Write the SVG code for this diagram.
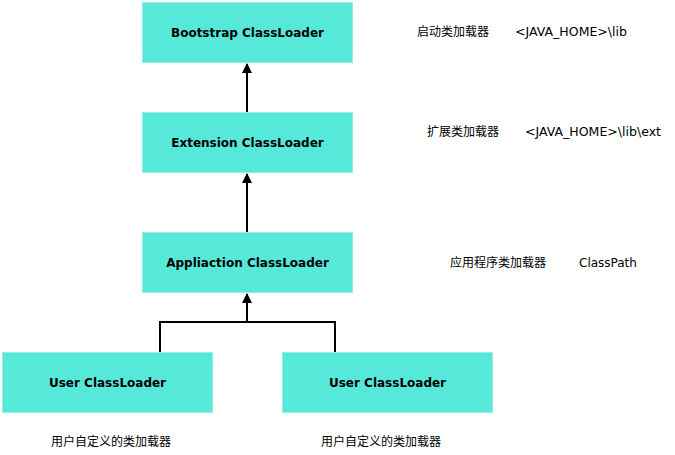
<svg xmlns="http://www.w3.org/2000/svg" width="675" height="455" viewBox="0 0 675 455">
<style>
.box{fill:#56e9da;stroke:#8ff0e6;stroke-width:1}
.lbl{font-family:"DejaVu Sans","Noto Sans",sans-serif;font-weight:bold;font-size:12px;fill:#000;text-anchor:middle;dominant-baseline:central}
.note{font-family:"DejaVu Sans","Noto Sans CJK SC",sans-serif;font-size:12px;fill:#000;dominant-baseline:central}
.edge{fill:none;stroke:#000;stroke-width:2}
</style>
<defs>
<marker id="arr" viewBox="0 0 10 10" refX="9" refY="5" markerWidth="10" markerHeight="10" markerUnits="userSpaceOnUse" orient="auto">
<path d="M0,0 L10,5 L0,10 Z" fill="#000"/>
</marker>
</defs>
<rect width="675" height="455" fill="#fff"/>
<g id="connectors">
<path class="edge" d="M247,112 L247,64" marker-end="url(#arr)"/>
<path class="edge" d="M247,232 L247,174" marker-end="url(#arr)"/>
<path class="edge" d="M247,322 L247,294" marker-end="url(#arr)"/>
<path class="edge" d="M160,352 L160,322 L335,322 L335,352"/>
</g>
<g id="bootstrap">
<rect class="box" x="142.5" y="2.5" width="210" height="60"/>
<text class="lbl" x="247.5" y="32.5">Bootstrap ClassLoader</text>
</g>
<g id="extension">
<rect class="box" x="142.5" y="112.5" width="210" height="60"/>
<text class="lbl" x="247.5" y="142.5">Extension ClassLoader</text>
</g>
<g id="application">
<rect class="box" x="142.5" y="232.5" width="210" height="60"/>
<text class="lbl" x="247.5" y="262.5">Appliaction ClassLoader</text>
</g>
<g id="user1">
<rect class="box" x="2.5" y="352.5" width="210" height="60"/>
<text class="lbl" x="107.5" y="382.5">User ClassLoader</text>
</g>
<g id="user2">
<rect class="box" x="282.5" y="352.5" width="210" height="60"/>
<text class="lbl" x="387.5" y="382.5">User ClassLoader</text>
</g>
<g id="notes">
<text class="note" x="417" y="32">启动类加载器</text>
<text class="note" x="515" y="32" textLength="112" lengthAdjust="spacingAndGlyphs">&lt;JAVA_HOME&gt;\lib</text>
<text class="note" x="427" y="132">扩展类加载器</text>
<text class="note" x="525" y="132" textLength="136" lengthAdjust="spacingAndGlyphs">&lt;JAVA_HOME&gt;\lib\ext</text>
<text class="note" x="450" y="263">应用程序类加载器</text>
<text class="note" x="579" y="263">ClassPath</text>
<text class="note" x="51" y="442">用户自定义的类加载器</text>
<text class="note" x="321" y="442">用户自定义的类加载器</text>
</g>
</svg>
